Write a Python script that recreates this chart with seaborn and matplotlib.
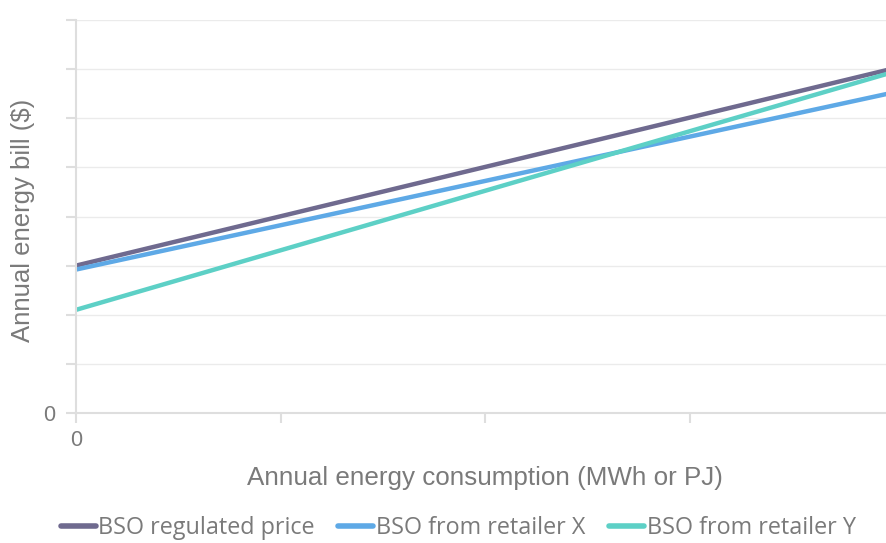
import matplotlib
matplotlib.use("Agg")
import matplotlib.pyplot as plt
import numpy as np
import pandas as pd
import seaborn as sns

# ---- data ------------------------------------------------------------------
consumption = [0, 4]
regulated = [3.0, 7.02]
retailer_x = [2.92, 6.53]
retailer_y = [2.10, 6.95]
series_names = ["BSO regulated price", "BSO from retailer X", "BSO from retailer Y"]
colors = ["#6f6a8f", "#5ea9e6", "#5dd0c6"]

df = pd.DataFrame({
    "consumption": consumption * 3,
    "bill": regulated + retailer_x + retailer_y,
    "series": [s for s in series_names for _ in consumption],
})

sns.set_theme(style="white")
plt.rcParams["font.family"] = ["Liberation Sans", "DejaVu Sans"]
GRID = "#ebebeb"
AXIS = "#dedede"
TXT = "#7a7a7a"

fig = plt.figure(figsize=(8.86, 5.43), dpi=100)
ax = fig.add_axes([76 / 886, 1 - 413 / 543, 810 / 886, 393 / 543])

sns.lineplot(data=df, x="consumption", y="bill", hue="series", hue_order=series_names,
             palette=colors, linewidth=3.2, ax=ax, legend=False)

ax.set_xlim(0, 3.957)
ax.set_ylim(0, 8)
ax.set_yticks(np.arange(0, 9))
ax.set_yticklabels(["0"] + [""] * 8)
ax.set_xticks([0, 1, 2, 3])
ax.set_xticklabels(["0", "", "", ""])
ax.grid(axis="y", color=GRID, lw=1)
ax.set_axisbelow(True)
for side in ["top", "right"]:
    ax.spines[side].set_visible(False)
for side in ["left", "bottom"]:
    ax.spines[side].set_color(AXIS)
    ax.spines[side].set_linewidth(1.5)
ax.tick_params(axis="both", length=7, width=1.5, color=AXIS, labelcolor=TXT,
               labelsize=15.5, pad=8, left=True, bottom=True)
ax.tick_params(axis="x", pad=5)
ax.set_xlabel("Annual energy consumption (MWh or PJ)", fontsize=18.7, color=TXT)
ax.set_ylabel("Annual energy bill ($)", fontsize=18.5, color=TXT)
ax.xaxis.set_label_coords(0.505, -0.135)
ax.yaxis.set_label_coords(-0.05, 0.49)

handles = [plt.Line2D([], [], color=c, lw=4) for c in colors]
leg = fig.legend(handles, series_names, loc="center", bbox_to_anchor=(0.517, 0.027),
                 ncol=3, frameon=False, handlelength=1.5, handletextpad=0.12,
                 columnspacing=1.0, prop={"family": ["Open Sans", "DejaVu Sans"], "size": 16.8})
for t in leg.get_texts():
    t.set_color(TXT)

fig.savefig("out.png", dpi=100)
